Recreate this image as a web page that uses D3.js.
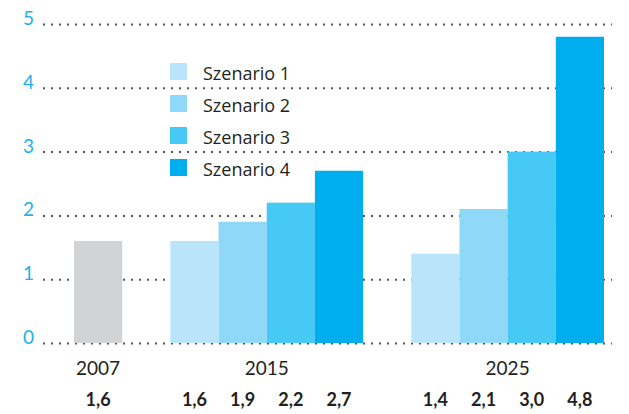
<!DOCTYPE html>
<html>
<head>
<meta charset="utf-8">
<script src="https://cdn.jsdelivr.net/npm/d3@7"></script>
<style>
  body { margin: 0; background: #fff; }
  svg { display: block; font-family: Lato, 'Open Sans', sans-serif; }
</style>
</head>
<body>
<div id="chart"></div>
<script>
// data
const years = ['2007', '2015', '2025'];
const base2007 = [1.6];
const values2015 = [1.6, 1.9, 2.2, 2.7];
const values2025 = [1.4, 2.1, 3.0, 4.8];
const scenarios = ['Szenario 1', 'Szenario 2', 'Szenario 3', 'Szenario 4'];
const yTicks = [0, 1, 2, 3, 4, 5];

const w = 629;
const h = 414;
const colors = ['#b9e4f9', '#8fd8f7', '#47c9f5', '#00aeef'];
const gray = '#d1d3d4';

// slots: 0 = 2007, 1 empty, 2-5 = 2015, 6 empty, 7-10 = 2025
const bars = [];
bars.push({ slot: 0, value: base2007[0], color: gray, year: years[0] });
values2015.forEach((v, i) => bars.push({ slot: 2 + i, value: v, color: colors[i], year: years[1] }));
values2025.forEach((v, i) => bars.push({ slot: 7 + i, value: v, color: colors[i], year: years[2] }));

const svg = d3.select('#chart')
  .append('svg')
  .attr('width', w)
  .attr('height', h);

const xScale = d3.scaleBand()
  .domain(d3.range(11))
  .range([74, 604])
  .padding(0);

const yScale = d3.scaleLinear()
  .domain([0, 5])
  .range([343, 24]);

// grid lines
svg.append('g')
  .selectAll('line')
  .data(yTicks)
  .enter()
  .append('line')
  .attr('x1', 43)
  .attr('x2', 612)
  .attr('y1', d => yScale(d) + 0.5)
  .attr('y2', d => yScale(d) + 0.5)
  .attr('stroke', '#555')
  .attr('stroke-width', 2)
  .attr('stroke-dasharray', '2,6');

// y tick labels
svg.append('g')
  .selectAll('text')
  .data(yTicks)
  .enter()
  .append('text')
  .attr('x', 34)
  .attr('y', d => yScale(d) + 1)
  .attr('text-anchor', 'end')
  .attr('fill', '#1cb1ee')
  .style('font-size', '19px')
  .text(d => d);

// bars
svg.append('g')
  .selectAll('rect')
  .data(bars)
  .enter()
  .append('rect')
  .attr('x', d => xScale(d.slot))
  .attr('width', xScale.bandwidth())
  .attr('y', d => yScale(d.value))
  .attr('height', d => yScale(0) - yScale(d.value))
  .attr('fill', d => d.color);

// year labels
const yearCenter = y => {
  const s = bars.filter(b => b.year === y);
  return (xScale(s[0].slot) + xScale(s[s.length - 1].slot) + xScale.bandwidth()) / 2;
};
svg.append('g')
  .selectAll('text')
  .data(years)
  .enter()
  .append('text')
  .attr('x', d => yearCenter(d))
  .attr('y', 375)
  .attr('text-anchor', 'middle')
  .attr('fill', '#231f20')
  .style('font-size', '19px')
  .text(d => d);

// value labels
svg.append('g')
  .selectAll('text')
  .data(bars)
  .enter()
  .append('text')
  .attr('x', d => xScale(d.slot) + xScale.bandwidth() / 2)
  .attr('y', 406)
  .attr('text-anchor', 'middle')
  .attr('fill', '#231f20')
  .style('font-size', '18px')
  .style('font-weight', 'bold')
  .text(d => d.value.toFixed(1).replace('.', ','));

// legend
const legend = svg.selectAll('.legend')
  .data(scenarios)
  .enter()
  .append('g')
  .attr('class', 'legend')
  .attr('transform', (d, i) => 'translate(170,' + (63 + i * 32) + ')');
legend.append('rect')
  .attr('width', 17)
  .attr('height', 17)
  .attr('fill', (d, i) => colors[i]);
legend.append('text')
  .attr('x', 33)
  .attr('y', 17)
  .attr('fill', '#231f20')
  .style('font-family', "'Open Sans', sans-serif")
  .style('font-size', '18px')
  .text(d => d);
</script>
</body>
</html>
